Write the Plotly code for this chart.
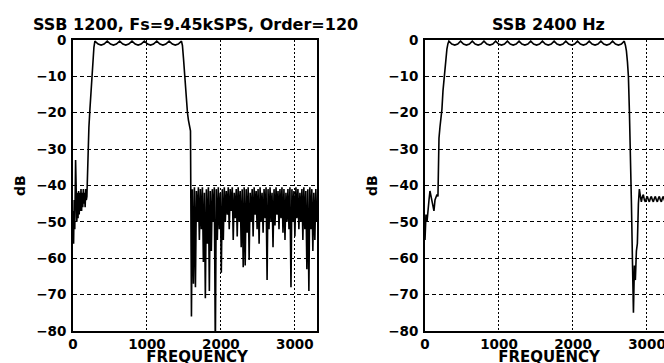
import plotly.graph_objects as go

# ---------------- data ----------------
left_title = "SSB 1200, Fs=9.45kSPS, Order=120"
right_title = "SSB 2400 Hz"
x_title = "FREQUENCY"
y_title = "dB"
x_ticks = [0, 1000, 2000, 3000]
y_ticks = [0, -10, -20, -30, -40, -50, -60, -70, -80]
y_ticktext = ["0", "\u221210", "\u221220", "\u221230", "\u221240", "\u221250",
              "\u221260", "\u221270", "\u221280"]

# Left filter (SSB 1200): lower stopband + rising edge
left_low_f = [0, 8, 16, 24, 35, 44, 52, 60, 68, 76, 84, 92, 100, 108, 116, 124, 132, 140,
              148, 156, 164, 172, 180, 188, 202, 215, 229, 243, 256, 270, 283]
left_low_db = [-47, -56, -44, -52, -33, -43, -50, -42, -49, -41.5, -48, -42, -47, -41, -47, -42,
               -46, -41, -45, -42, -46, -41, -44, -43, -28, -24, -19, -14, -9, -5, -2]
# passband ripple (peaks / shoulders / dips)
left_pass_f = [296, 340, 380, 420, 463, 507, 547, 587, 631, 674, 714, 754, 798, 841, 881, 921,
               965, 1009, 1049, 1089, 1133, 1176, 1216, 1256, 1300, 1344, 1384, 1424, 1467]
left_pass_db = [-0.3, -1.1, -1.4, -1.1, -0.3, -1.1, -1.4, -1.1, -0.3, -1.1, -1.4, -1.1, -0.3,
                -1.1, -1.4, -1.1, -0.3, -1.1, -1.4, -1.1, -0.3, -1.1, -1.4, -1.1, -0.3, -1.1,
                -1.4, -1.1, -0.3]
# falling edge + upper stopband
left_high_f = [1480, 1494, 1507, 1521, 1534, 1548, 1561, 1575, 1589, 1602,
               1615, 1629, 1642, 1656, 1669, 1683, 1696, 1709, 1723, 1736, 1750, 1763, 1777,
               1790, 1804, 1817, 1831, 1844, 1857, 1871, 1884, 1898, 1911, 1925, 1938, 1952,
               1965, 1979, 1992, 2006, 2019, 2033, 2046, 2060, 2073, 2087, 2100, 2113, 2127,
               2140, 2154, 2167, 2181, 2194, 2208, 2221, 2234, 2248, 2261, 2275, 2288, 2302,
               2315, 2329, 2342, 2355, 2369, 2382, 2396, 2409, 2423, 2436, 2450, 2463, 2477,
               2490, 2503, 2517, 2530, 2544, 2557, 2571, 2584, 2598, 2611, 2625, 2638, 2651,
               2665, 2678, 2692, 2705, 2719, 2732, 2746, 2759, 2773, 2786, 2799, 2813, 2826,
               2840, 2853, 2867, 2880, 2894, 2907, 2921, 2934, 2948, 2961, 2974, 2988, 3001,
               3015, 3028, 3042, 3055, 3069, 3082, 3096, 3109, 3122, 3136, 3149, 3163, 3176,
               3190, 3203, 3217, 3230, 3244, 3257, 3271, 3284, 3298]
left_high_db = [-1.5, -5, -9, -13, -17, -20, -22, -24, -25, -76,
                -41, -67, -40.5, -68, -41.5, -50, -40.5, -55, -41, -52, -40.5, -61, -42,
                -71, -41, -56, -40.5, -69, -41.5, -58, -41, -50, -40.5, -86, -41, -55,
                -40.5, -52, -42, -64, -41, -55, -40.5, -50, -41.5, -48, -40.5, -52, -41,
                -47, -40.5, -55, -42, -49, -41, -54, -40.5, -50, -41.5, -57, -41, -62.5,
                -40.5, -62, -41, -53, -40.5, -60.5, -42, -50, -41, -54, -40.5, -48, -41.5,
                -52, -41, -56, -40.5, -50, -42, -53, -41, -49, -40.5, -66, -41, -52,
                -40.5, -50, -42, -57, -41, -51, -40.5, -48, -41.5, -52, -41, -49, -40.5,
                -53, -41, -55, -42, -50, -41, -52, -40.5, -68, -41, -50, -41.5, -54,
                -40.5, -49, -41, -52, -42, -50, -41, -55, -40.5, -52, -41.5, -63, -41,
                -69, -40.5, -52, -41, -58, -42, -55, -41, -50]

# Right filter (SSB 2400 Hz)
right_low_f = [0, 13, 27, 40, 54, 67, 81, 94, 108, 121, 135, 148, 162, 175, 189, 202, 216,
               229, 243, 256, 270, 283, 296, 310]
right_low_db = [-55, -48, -50, -46, -44, -41.5, -43, -44.5, -46, -47, -44, -43, -42.5, -43,
                -27, -24, -22, -19, -14, -11, -8, -5, -2.5, -1]
right_pass_f = [323, 362, 402, 442, 481, 520, 560, 600, 639, 678, 718, 758, 797, 836, 876,
                916, 955, 994, 1034, 1074, 1113, 1152, 1192, 1232, 1271, 1310, 1350, 1390,
                1429, 1468, 1508, 1548, 1587, 1626, 1666, 1706, 1745, 1784, 1824, 1864, 1903,
                1942, 1982, 2022, 2061, 2100, 2140, 2180, 2219, 2258, 2298, 2338, 2377, 2416,
                2456, 2496, 2535, 2574, 2614, 2654, 2693]
right_pass_db = [-0.3, -1.1, -1.4, -1.1, -0.3, -1.1, -1.4, -1.1, -0.3, -1.1, -1.4, -1.1,
                 -0.3, -1.1, -1.4, -1.1, -0.3, -1.1, -1.4, -1.1, -0.3, -1.1, -1.4, -1.1,
                 -0.3, -1.1, -1.4, -1.1, -0.3, -1.1, -1.4, -1.1, -0.3, -1.1, -1.4, -1.1,
                 -0.3, -1.1, -1.4, -1.1, -0.3, -1.1, -1.4, -1.1, -0.3, -1.1, -1.4, -1.1,
                 -0.3, -1.1, -1.4, -1.1, -0.3, -1.1, -1.4, -1.1, -0.3, -1.1, -1.4, -1.1,
                 -0.3]
right_high_f = [2709, 2722, 2736, 2749, 2763, 2776, 2790, 2803, 2817, 2830, 2843, 2857, 2870,
                2884, 2897, 2911, 2924, 2938, 2951, 2965, 2978, 2992, 3005, 3019, 3032, 3046,
                3059, 3073, 3086, 3100, 3113, 3127, 3140, 3154, 3167, 3181, 3194, 3208, 3221,
                3235, 3250]
right_high_db = [-1.5, -3, -6, -10, -20, -30, -45, -60, -75, -62, -66, -58, -56,
                 -45, -41, -43, -44.5, -43, -42.5, -44, -44.5, -43.5, -43, -44, -44.5, -43.5,
                 -43, -44, -44.5, -43.5, -43, -44, -44.5, -43.5, -43, -44, -44.5, -43.5, -43,
                 -44, -44]

left_f = left_low_f + left_pass_f + left_high_f
left_db = left_low_db + left_pass_db + left_high_db
right_f = right_low_f + right_pass_f + right_high_f
right_db = right_low_db + right_pass_db + right_high_db

# ---------------- figure ----------------
W, H = 664, 363
FONT = "DejaVu Sans"
PLOT_TOP, PLOT_BOTTOM = 40, 331


def px_x(p):
    return p / W


def px_y(p):
    return 1 - p / H


fig = go.Figure()
line_style = dict(color="black", width=1.6)
fig.add_trace(go.Scatter(x=left_f, y=left_db, mode="lines", line=line_style,
                         xaxis="x", yaxis="y", showlegend=False, hoverinfo="skip"))
fig.add_trace(go.Scatter(x=right_f, y=right_db, mode="lines", line=line_style,
                         xaxis="x2", yaxis="y2", showlegend=False, hoverinfo="skip"))

# x-axis titles, placed on an invisible full-page overlay in page pixels
xlabfont = dict(family=FONT, size=15, color="black", weight="bold")
fig.add_trace(go.Scatter(x=[197, 549], y=[358, 358], mode="text",
                         text=[x_title, x_title], textposition="middle center",
                         textfont=xlabfont, cliponaxis=False, xaxis="x3", yaxis="y3",
                         showlegend=False, hoverinfo="skip"))

xtickfont = dict(family=FONT, size=13.5, color="black", weight="bold")
ytickfont = dict(family=FONT, size=13.5, color="black", weight="bold")
xcommon = dict(showline=True, linecolor="black", linewidth=2, ticks="",
               tickvals=x_ticks, showgrid=True, gridcolor="black", gridwidth=1,
               griddash="2px,2px", zeroline=False, tickfont=xtickfont,
               ticklabelstandoff=0, ticklabeloverflow="allow", automargin=False)
ycommon = dict(showline=True, linecolor="black", linewidth=2, ticks="",
               tickvals=y_ticks, ticktext=y_ticktext, range=[-80, 0], showgrid=True,
               gridcolor="black", gridwidth=1, griddash="4px,3px", zeroline=False,
               tickfont=ytickfont, ticklabelstandoff=2, ticklabeloverflow="allow",
               automargin=False)

fig.update_layout(
    width=W, height=H,
    margin=dict(l=0, r=0, t=0, b=0, autoexpand=False),
    paper_bgcolor="white", plot_bgcolor="rgba(0,0,0,0)",
    xaxis=dict(domain=[px_x(73), px_x(317)], range=[0, 3300], anchor="y",
               mirror=True, **xcommon),
    yaxis=dict(domain=[px_y(PLOT_BOTTOM), px_y(PLOT_TOP)], anchor="x", mirror=True, **ycommon),
    xaxis2=dict(domain=[px_x(425), 1.0], range=[0, 3230], anchor="y2",
                mirror=True, **xcommon),
    yaxis2=dict(domain=[px_y(PLOT_BOTTOM), px_y(PLOT_TOP)], anchor="x2", mirror=False,
                **ycommon),
    xaxis3=dict(domain=[0, 1], range=[0, W], anchor="y3", visible=False, fixedrange=True,
                automargin=False),
    yaxis3=dict(domain=[0, 1], range=[H, 0], anchor="x3", visible=False, fixedrange=True,
                automargin=False),
)

annfont_title = dict(family=FONT, size=16, color="black", weight="bold")
annfont = dict(family=FONT, size=14, color="black", weight="bold")
anns = [
    dict(text=left_title, x=px_x(195), y=px_y(24), font=annfont_title),
    dict(text=right_title, x=px_x(548), y=px_y(24), font=annfont_title),
    dict(text=y_title, x=px_x(20), y=px_y(186), textangle=-90, font=annfont),
    dict(text=y_title, x=px_x(372), y=px_y(186), textangle=-90, font=annfont),
]
for a in anns:
    fig.add_annotation(xref="paper", yref="paper", showarrow=False,
                       xanchor="center", yanchor="middle", **a)

fig.write_html("out.html")
